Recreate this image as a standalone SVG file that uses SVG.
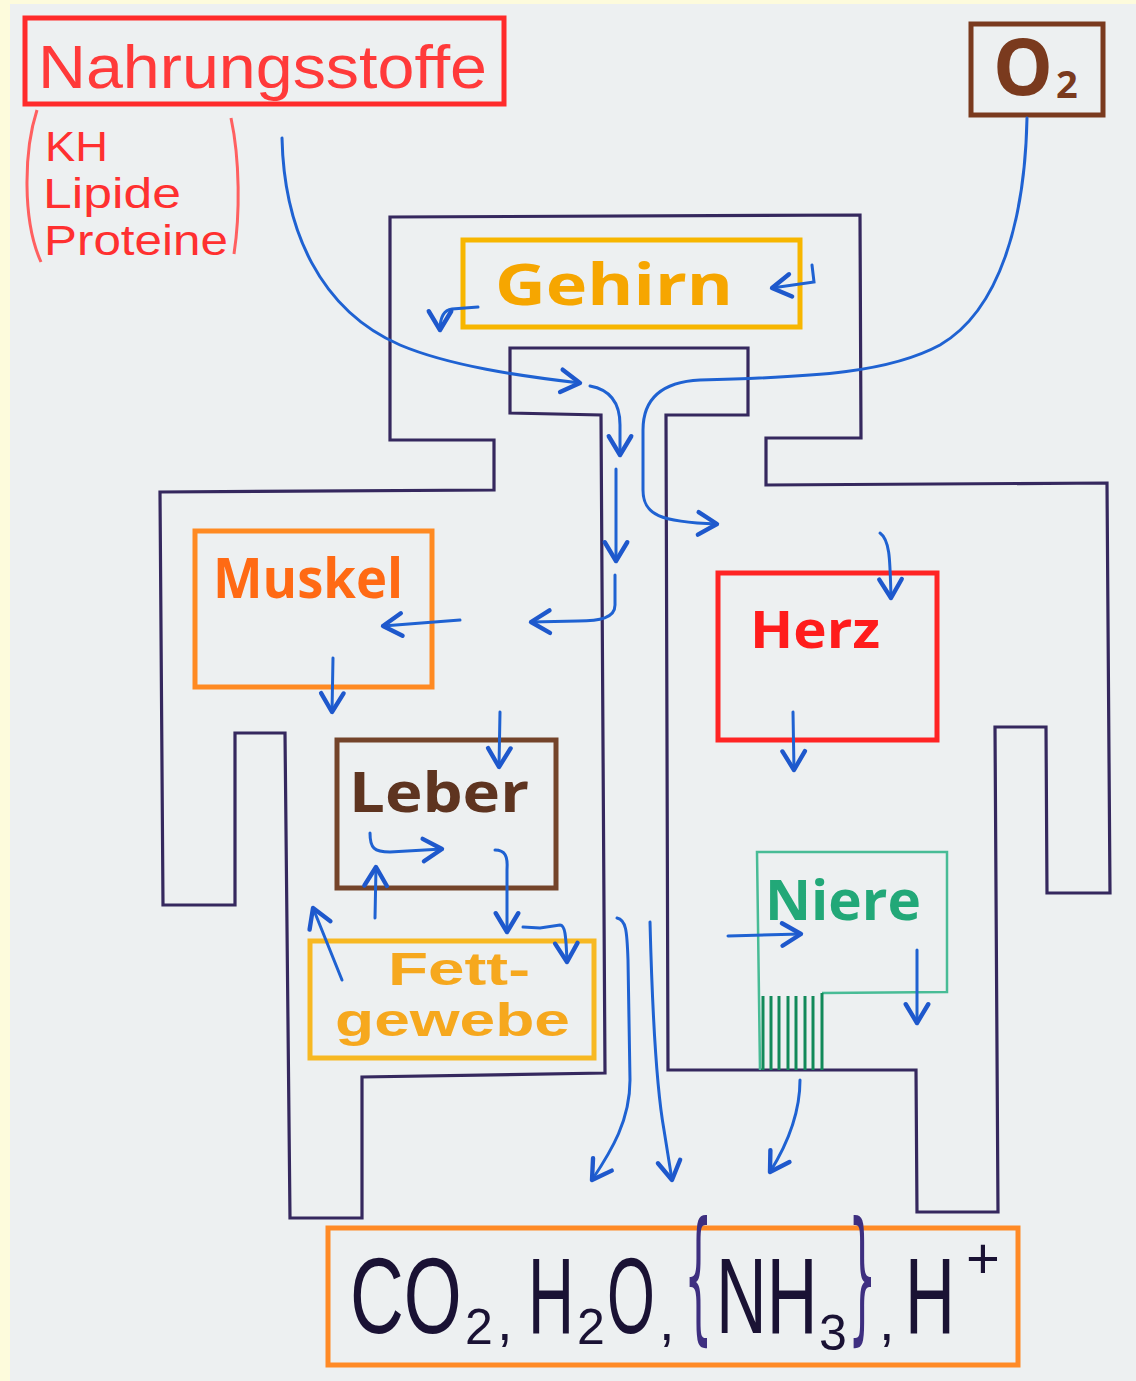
<svg xmlns="http://www.w3.org/2000/svg" width="1136" height="1381" viewBox="0 0 1136 1381">
<defs>
<marker id="ah" markerUnits="userSpaceOnUse" markerWidth="30" markerHeight="30" viewBox="-20 -12 24 24" refX="0" refY="0" orient="auto">
<path d="M-15,-9 L0,0 L-15,9" fill="none" stroke="#1e58cc" stroke-width="3.5" stroke-linecap="round" stroke-linejoin="round"/>
</marker>
</defs>
<style>
.body{fill:none;stroke:#35285e;stroke-width:3.2;stroke-linejoin:miter}
.arr{fill:none;stroke:#1f62d2;stroke-width:3;stroke-linecap:round;marker-end:url(#ah)}
.box{fill:none;stroke-width:5}
.hand{font-family:"Liberation Sans","Open Sans",sans-serif}
.bold{font-family:"Open Sans","Liberation Sans",sans-serif;font-weight:bold}
.bold2{font-family:"Liberation Sans","Open Sans",sans-serif;font-weight:bold}
.chem{font-family:"Liberation Sans",sans-serif;fill:#1a1234}
.brace{font-family:"DejaVu Sans","Liberation Sans",sans-serif;fill:#3e2f80}
</style>
<rect x="0" y="0" width="1136" height="1381" fill="#fdfbdc"/>
<rect x="10" y="4" width="1126" height="1377" fill="#edf0f1"/>

<g id="body-outline">
<path class="body" d="M390,217 L860,215 L861,438 L766,438 L766,485 L1107,483 L1110,893 L1047,893 L1046,727 L995,727 L998,1212 L917,1212 L916,1070 L668,1070 L666,415 L748,415 L748,348 L510,348 L510,413 L601,415 L605,1073 L362,1077 L362,1218 L290,1218 L285,733 L235,733 L235,905 L163,905 L160,492 L494,490 L494,440 L390,440 Z"/>
</g>

<g id="nahrungsstoffe">
<rect class="box" x="25" y="18" width="479" height="86" stroke="#ff2b2b"/>
<text class="hand" x="38" y="88" font-size="62" fill="#ff3a3a" textLength="449" lengthAdjust="spacingAndGlyphs">Nahrungsstoffe</text>
</g>

<g id="naehrstoffliste">
<path d="M37,110 C24,150 22,220 41,262" fill="none" stroke="#ff6060" stroke-width="3"/>
<path d="M231,118 C240,160 240,215 234,254" fill="none" stroke="#ff6060" stroke-width="3"/>
<text class="hand" font-size="42" fill="#ff3030"><tspan x="45" y="161" textLength="63" lengthAdjust="spacingAndGlyphs">KH</tspan><tspan x="43" y="208" textLength="138" lengthAdjust="spacingAndGlyphs">Lipide</tspan><tspan x="44" y="255" textLength="184" lengthAdjust="spacingAndGlyphs">Proteine</tspan></text>
</g>

<g id="o2">
<rect class="box" x="971" y="24" width="132" height="91" stroke="#7a3a1e"/>
<text class="bold" x="993" y="95" font-size="78" fill="#7a3a1e" textLength="60" lengthAdjust="spacingAndGlyphs">O</text>
<text class="bold" x="1056" y="98" font-size="38" fill="#7a3a1e">2</text>
</g>

<g id="gehirn">
<rect class="box" x="463" y="240" width="337" height="87" stroke="#f7b600" stroke-width="6"/>
<text class="bold" x="495" y="305" font-size="58" fill="#f6a600" textLength="238" lengthAdjust="spacingAndGlyphs">Gehirn</text>
</g>

<g id="muskel">
<rect class="box" x="195" y="531" width="237" height="156" stroke="#ff8a22"/>
<text class="bold" x="213" y="598" font-size="56" fill="#ff6a14" textLength="190" lengthAdjust="spacingAndGlyphs">Muskel</text>
</g>

<g id="leber">
<rect class="box" x="337" y="740" width="219" height="148" stroke="#74442a"/>
<text class="bold" x="349" y="812" font-size="56" fill="#5e3420" textLength="180" lengthAdjust="spacingAndGlyphs">Leber</text>
</g>

<g id="fettgewebe">
<rect class="box" x="310" y="941" width="284" height="117" stroke="#f7b822"/>
<text class="bold2" font-size="46" fill="#f6a81e"><tspan x="388" y="985" textLength="142" lengthAdjust="spacingAndGlyphs">Fett-</tspan><tspan x="335" y="1036" textLength="235" lengthAdjust="spacingAndGlyphs">gewebe</tspan></text>
</g>

<g id="herz">
<rect class="box" x="718" y="573" width="219" height="167" stroke="#ff2424"/>
<text class="bold" x="750" y="648" font-size="52" fill="#ff1c1c" textLength="130" lengthAdjust="spacingAndGlyphs">Herz</text>
</g>

<g id="niere">
<path d="M760,1070 L757,852 L947,852 L947,992 L822,993" fill="none" stroke="#48bc96" stroke-width="2.5"/>
<g stroke="#128a5a" stroke-width="3">
<line x1="763" y1="996" x2="763" y2="1070"/>
<line x1="771" y1="996" x2="771" y2="1070"/>
<line x1="779" y1="996" x2="779" y2="1070"/>
<line x1="788" y1="996" x2="788" y2="1070"/>
<line x1="796" y1="996" x2="796" y2="1070"/>
<line x1="805" y1="996" x2="805" y2="1070"/>
<line x1="813" y1="996" x2="813" y2="1070"/>
<line x1="822" y1="993" x2="822" y2="1070"/>
</g>
<text class="bold" x="765" y="920" font-size="56" fill="#22a878" textLength="156" lengthAdjust="spacingAndGlyphs">Niere</text>
</g>

<g id="produkte">
<rect class="box" x="328" y="1228" width="690" height="137" stroke="#ff8a26"/>
<text class="chem" font-size="108" transform="translate(350,1333) scale(0.69,1)">CO</text>
<text class="chem" x="465" y="1344" font-size="50">2</text>
<text class="chem" x="497" y="1340" font-size="56">,</text>
<text class="chem" font-size="108" transform="translate(528,1333) scale(0.59,1)">H</text>
<text class="chem" x="577" y="1344" font-size="50">2</text>
<text class="chem" font-size="108" transform="translate(607,1333) scale(0.57,1)">O</text>
<text class="chem" x="659" y="1340" font-size="56">,</text>
<text class="brace" font-size="100" transform="translate(684,1325) scale(0.45,1.45)">{</text>
<text class="chem" font-size="108" transform="translate(716,1333) scale(0.65,1)">NH</text>
<text class="chem" x="819" y="1350" font-size="50">3</text>
<text class="brace" font-size="100" transform="translate(848,1325) scale(0.45,1.45)">}</text>
<text class="chem" x="879" y="1340" font-size="56">,</text>
<text class="chem" font-size="108" transform="translate(905,1333) scale(0.64,1)">H</text>
<text class="chem" x="966" y="1278" font-size="58">+</text>
</g>

<g id="connectors">
<path class="arr" d="M282,138 C284,230 320,310 400,345 C450,366 520,376 580,383"/>
<path class="arr" d="M590,386 C612,390 620,405 620,425 L620,455"/>
<path class="arr" d="M616,469 L616,561"/>
<path class="arr" d="M615,575 L615,605 C615,618 600,621 578,621 L531,622"/>
<path class="arr" d="M1027,118 C1025,220 1000,310 940,345 C890,372 820,377 700,380 C660,382 643,400 643,430 L643,490 C643,515 660,522 717,524"/>
<path class="arr" d="M812,265 L814,282 L772,288"/>
<path class="arr" d="M478,307 L452,309 C444,310 440,318 440,330"/>
<path class="arr" d="M460,620 L383,626"/>
<path class="arr" d="M333,658 L332,712"/>
<path class="arr" d="M500,712 L499,767"/>
<path class="arr" d="M370,833 C370,848 374,852 390,852 L442,849"/>
<path class="arr" d="M495,850 C505,850 508,856 507,870 L507,932"/>
<path class="arr" d="M523,927 L540,928 L560,925 C565,925 566,935 567,962"/>
<path class="arr" d="M375,918 L376,867"/>
<path class="arr" d="M342,980 L313,908"/>
<path class="arr" d="M880,533 C890,540 890,560 891,598"/>
<path class="arr" d="M793,712 L794,770"/>
<path class="arr" d="M728,936 L801,934"/>
<path class="arr" d="M917,950 L917,1023"/>
<path class="arr" d="M617,918 C626,920 627,930 628,960 L630,1080 C630,1120 612,1150 592,1180"/>
<path class="arr" d="M650,922 C652,1000 655,1080 664,1130 L672,1180"/>
<path class="arr" d="M800,1080 C800,1110 790,1140 770,1172"/>
</g>
</svg>
